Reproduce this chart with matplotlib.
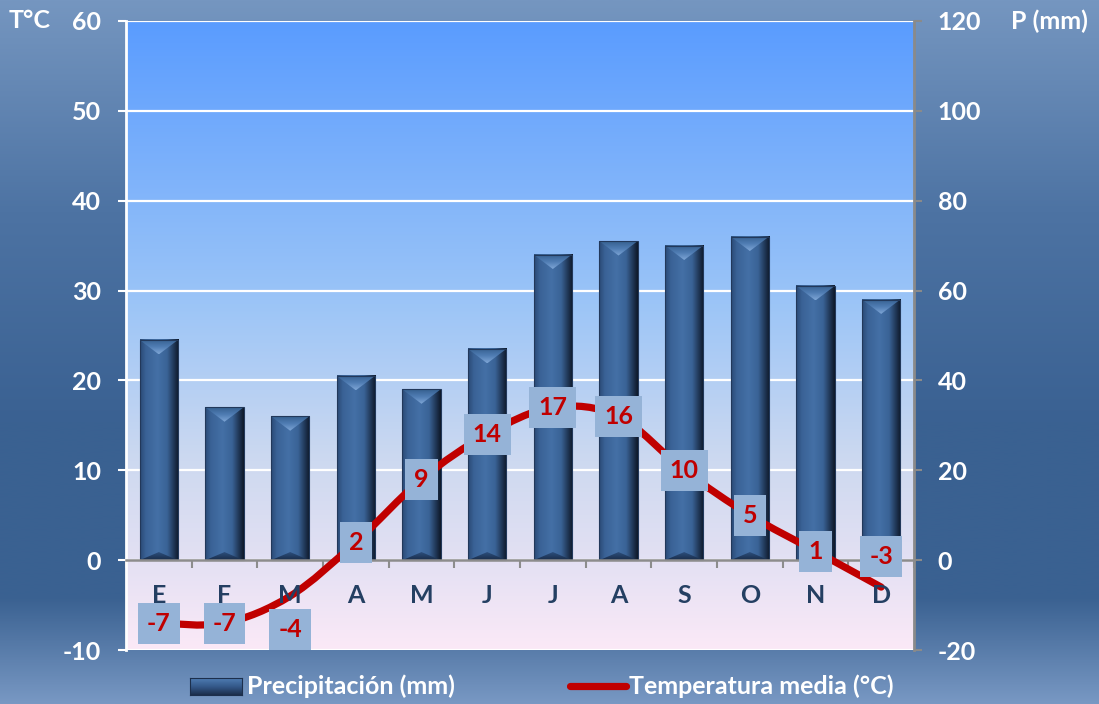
import numpy as np
import matplotlib
matplotlib.use("Agg")
import matplotlib.pyplot as plt
from matplotlib.colors import LinearSegmentedColormap
from matplotlib.path import Path
from matplotlib.patches import PathPatch, Polygon
from matplotlib.lines import Line2D

plt.rcParams["font.family"] = ["Lato", "DejaVu Sans"]
plt.rcParams["font.weight"] = "bold"
plt.rcParams["axes.unicode_minus"] = False

meses = ["E", "F", "M", "A", "M", "J", "J", "A", "S", "O", "N", "D"]
precip = [49, 34, 32, 41, 38, 47, 68, 71, 70, 72, 61, 58]
temp = [-7, -7, -4, 2, 9, 14, 17, 16, 10, 5, 1, -3]
t_ticks = [-10, 0, 10, 20, 30, 40, 50, 60]
p_ticks = [-20, 0, 20, 40, 60, 80, 100, 120]

# vertical nudge (points) for labels that would sit on the month letters
label_dy = [0, 0, -24, 0, 0, 0, 0, 0, 0, 0, 0, 22]

W, H = 1099, 704
FS = 18
fig = plt.figure(figsize=(W / 100, H / 100), dpi=100)

# outer background, darker towards the lower middle
bg = fig.add_axes([0, 0, 1, 1], zorder=-10)
bg_cmap = LinearSegmentedColormap.from_list(
    "bg", [(0, "#7596c0"), (0.3, "#4d73a3"), (0.6, "#3a6192"), (0.85, "#3a6191"),
           (1, "#7898c3")])
bg.imshow(np.linspace(0, 1, 256).reshape(-1, 1), cmap=bg_cmap, aspect="auto",
          extent=[0, 1, 0, 1])
bg.set_axis_off()

pos = [126 / W, (H - 650) / H, (914 - 126) / W, (650 - 21) / H]

# plot area gradient
pa = fig.add_axes(pos, zorder=-5)
pa_cmap = LinearSegmentedColormap.from_list(
    "pa", [(0, "#5a9cff"), (0.45, "#9cc5f7"), (0.7, "#cdd9f0"),
           (0.85, "#e2e0f3"), (1, "#fbe9f7")])
pa.imshow(np.linspace(0, 1, 256).reshape(-1, 1), cmap=pa_cmap, aspect="auto",
          extent=[0, 1, 0, 1])
pa.set_axis_off()

ax = fig.add_axes(pos)
ax2 = ax.twinx()
ax.set_zorder(ax2.get_zorder() + 1)
ax.patch.set_visible(False)
ax2.patch.set_visible(False)

x = np.arange(len(meses))

# precipitation bars with bevelled shading
body_cmap = LinearSegmentedColormap.from_list(
    "body", [(0, "#2a4a75"), (0.15, "#3a6296"), (0.45, "#4470a6"),
             (0.7, "#3a6396"), (0.88, "#1f3554"), (1, "#0e1828")])
top_cmap = LinearSegmentedColormap.from_list("top", ["#36608f", "#4f7cb3", "#7ea6d6"])
bot_cmap = LinearSegmentedColormap.from_list("bot", ["#1a2e4a", "#2f5283"])
bars = ax2.bar(x, precip, width=0.58, facecolor="none", edgecolor="#22385a",
               linewidth=0.8, zorder=3)
hgrad = np.linspace(0, 1, 128).reshape(1, -1)
vgrad = np.linspace(0, 1, 64).reshape(-1, 1)
for b in bars:
    x0, w, h = b.get_x(), b.get_width(), b.get_height()
    ax2.imshow(hgrad, cmap=body_cmap, aspect="auto", extent=[x0, x0 + w, 0, h], zorder=2)
    d = 3.2
    tri = Polygon([(x0, h), (x0 + w, h), (x0 + w / 2, h - d)], closed=True,
                  facecolor="none", edgecolor="none", transform=ax2.transData)
    ax2.add_patch(tri)
    im = ax2.imshow(vgrad, cmap=top_cmap, aspect="auto", origin="upper",
                    extent=[x0, x0 + w, h - d, h], zorder=2.5)
    im.set_clip_path(tri)
    db = 1.8
    tri_b = Polygon([(x0, 0), (x0 + w, 0), (x0 + w / 2, db)], closed=True,
                    facecolor="none", edgecolor="none", transform=ax2.transData)
    ax2.add_patch(tri_b)
    im = ax2.imshow(vgrad, cmap=bot_cmap, aspect="auto", origin="lower",
                    extent=[x0, x0 + w, 0, db], zorder=2.5)
    im.set_clip_path(tri_b)

ax2.set_ylim(-20, 120)
ax2.set_yticks(p_ticks)
ax2.grid(axis="y", color="white", linewidth=1.6, zorder=1)
ax2.set_axisbelow(True)
ax2.tick_params(axis="y", colors="#8a8a8a", length=6, width=1.5, labelcolor="white",
                labelsize=FS, pad=11)
for lab in ax2.get_yticklabels():
    lab.set_fontweight("bold")

# smoothed temperature line (Catmull-Rom through the monthly values)
pts = np.column_stack([x, temp]).astype(float)
ext = np.vstack([pts[0], pts, pts[-1]])
verts = [tuple(pts[0])]
codes = [Path.MOVETO]
for i in range(len(pts) - 1):
    p0, p1, p2, p3 = ext[i], ext[i + 1], ext[i + 2], ext[i + 3]
    verts += [tuple(p1 + (p2 - p0) / 6), tuple(p2 - (p3 - p1) / 6), tuple(p2)]
    codes += [Path.CURVE4] * 3
ax.add_patch(PathPatch(Path(verts, codes), facecolor="none", edgecolor="#c00000",
                       linewidth=5.2, capstyle="round", zorder=4))

for xi, t, dy in zip(x, temp, label_dy):
    ax.annotate(str(t), (xi, t), xytext=(0, dy), textcoords="offset points",
                ha="center", va="center", color="#c00000", fontsize=FS,
                fontweight="bold", zorder=6,
                bbox=dict(boxstyle="square,pad=0.36", facecolor="#95b3d7", edgecolor="none"))

for xi, m in zip(x, meses):
    ax.text(xi, -3.9, m, ha="center", va="center", color="#243f62", fontsize=FS,
            fontweight="bold", zorder=5)

ax.set_xlim(-0.5, len(meses) - 0.5)
ax.set_ylim(-10, 60)
ax.set_yticks(t_ticks)
ax.set_xticks(np.arange(-0.5, len(meses), 1))
ax.set_xticklabels([])
ax.tick_params(axis="x", colors="#8c8c8c", length=6, width=1.5, direction="out")
ax.tick_params(axis="y", colors="white", length=6, width=1.5, labelsize=FS, pad=12)
for lab in ax.get_yticklabels():
    lab.set_fontweight("bold")

for a in (ax, ax2):
    for s in a.spines.values():
        s.set_visible(False)
ax.spines["bottom"].set_visible(True)
ax.spines["bottom"].set_position(("data", 0))
ax.spines["bottom"].set_color("#8c8c8c")
ax.spines["bottom"].set_linewidth(1.8)
ax.spines["left"].set_visible(True)
ax.spines["left"].set_color("white")
ax.spines["left"].set_linewidth(2)
ax2.spines["right"].set_visible(True)
ax2.spines["right"].set_color("#8a8a8a")
ax2.spines["right"].set_linewidth(2)

fig.text(30 / W, 1 - 21 / H, "T°C", color="white", fontsize=FS, fontweight="bold",
         ha="center", va="center")
fig.text(1049 / W, 1 - 21 / H, "P (mm)", color="white", fontsize=FS, fontweight="bold",
         ha="center", va="center")

# legend row
lx0, lw_, ly0, lh = 190 / W, 52 / W, 1 - 695 / H, 17 / H
icon = fig.add_axes([lx0, ly0, lw_, lh], zorder=2)
icon.imshow(np.linspace(0, 1, 64).reshape(-1, 1), cmap=LinearSegmentedColormap.from_list(
    "icon", ["#4f7cb3", "#34598a", "#1c2f4c"]), aspect="auto", extent=[0, 1, 0, 1])
icon.set_xticks([])
icon.set_yticks([])
for s in icon.spines.values():
    s.set_color("#1c2f4c")
fig.add_artist(Line2D([570 / W, 626 / W], [1 - 686 / H] * 2, transform=fig.transFigure,
                      color="#c00000", linewidth=5.2, solid_capstyle="round"))
fig.text(247 / W, 1 - 686 / H, "Precipitación (mm)", color="white", fontsize=FS,
         fontweight="bold", ha="left", va="center")
fig.text(629 / W, 1 - 686 / H, "Temperatura media (°C)", color="white", fontsize=FS,
         fontweight="bold", ha="left", va="center")

fig.savefig("out.png", dpi=100)
